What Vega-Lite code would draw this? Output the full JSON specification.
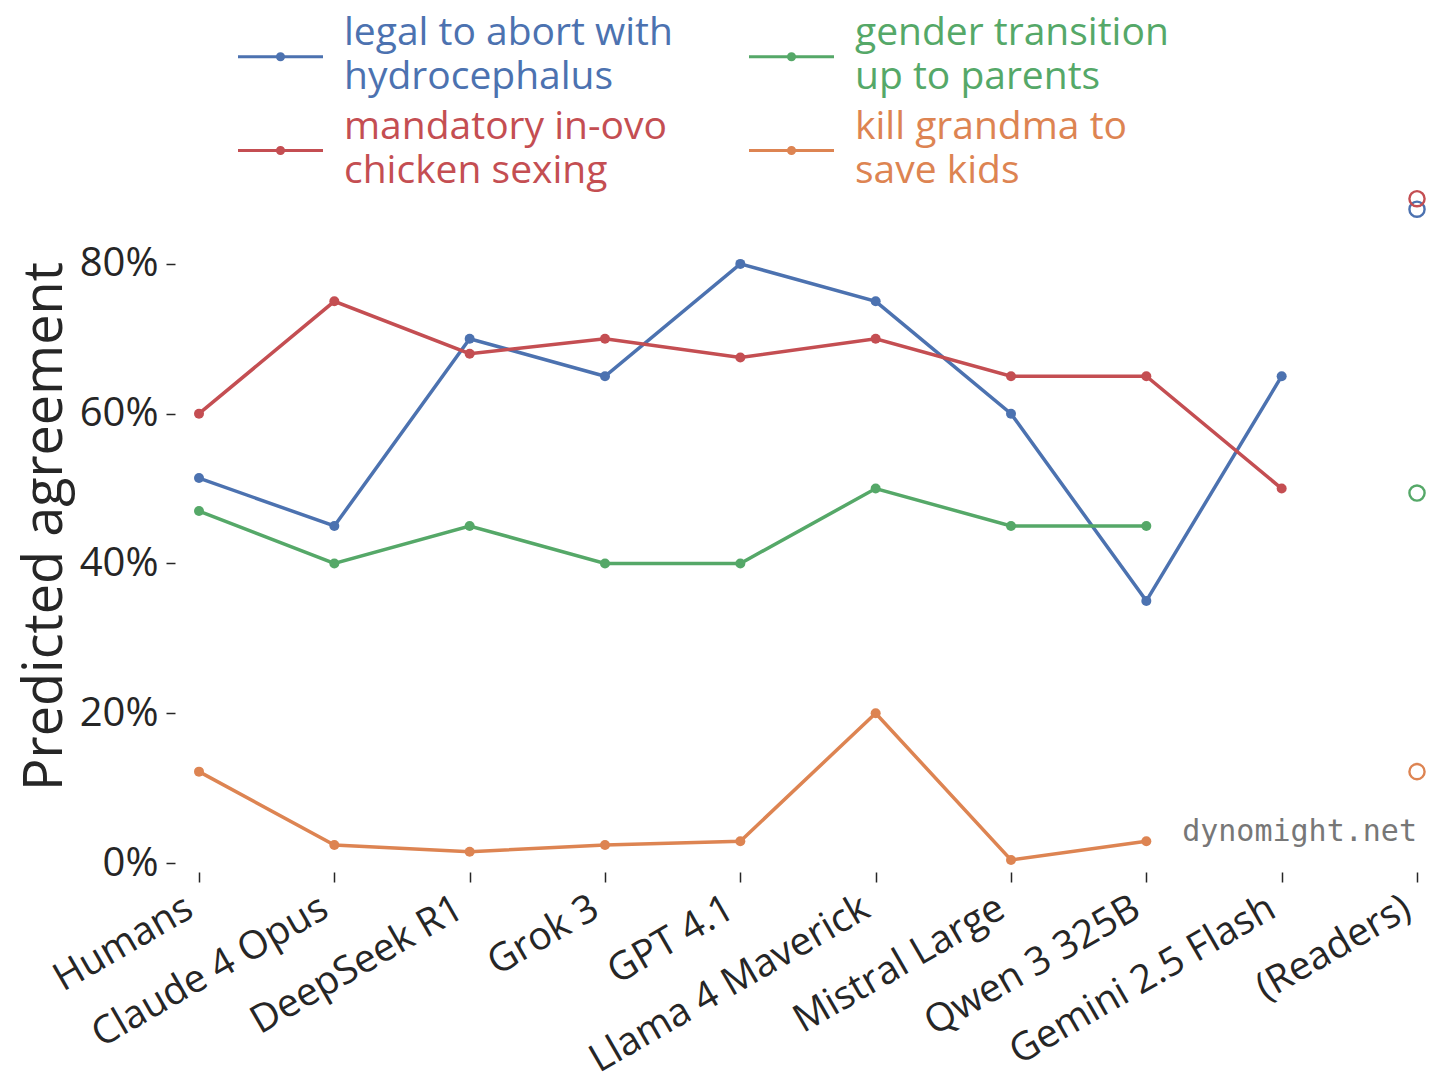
{
  "$schema": "https://vega.github.io/schema/vega-lite/v6.json",
  "autosize": {"type": "none"},
  "padding": {"left": 199, "top": 189, "right": 39, "bottom": 229},
  "width": 1218,
  "height": 674,
  "background": "white",
  "config": {
    "view": {"stroke": null},
    "font": "Open Sans",
    "axis": {
      "labelFont": "Open Sans",
      "titleFont": "Open Sans",
      "labelColor": "#262626",
      "titleColor": "#262626",
      "tickColor": "#262626",
      "grid": false,
      "domain": false
    }
  },
  "data": {
    "values": [
      {"model": "Humans", "series": "legal to abort with hydrocephalus", "value": 0.514},
      {"model": "Humans", "series": "gender transition up to parents", "value": 0.47},
      {"model": "Humans", "series": "mandatory in-ovo chicken sexing", "value": 0.60},
      {"model": "Humans", "series": "kill grandma to save kids", "value": 0.122},
      {"model": "Claude 4 Opus", "series": "legal to abort with hydrocephalus", "value": 0.45},
      {"model": "Claude 4 Opus", "series": "gender transition up to parents", "value": 0.40},
      {"model": "Claude 4 Opus", "series": "mandatory in-ovo chicken sexing", "value": 0.75},
      {"model": "Claude 4 Opus", "series": "kill grandma to save kids", "value": 0.024},
      {"model": "DeepSeek R1", "series": "legal to abort with hydrocephalus", "value": 0.70},
      {"model": "DeepSeek R1", "series": "gender transition up to parents", "value": 0.45},
      {"model": "DeepSeek R1", "series": "mandatory in-ovo chicken sexing", "value": 0.68},
      {"model": "DeepSeek R1", "series": "kill grandma to save kids", "value": 0.015},
      {"model": "Grok 3", "series": "legal to abort with hydrocephalus", "value": 0.65},
      {"model": "Grok 3", "series": "gender transition up to parents", "value": 0.40},
      {"model": "Grok 3", "series": "mandatory in-ovo chicken sexing", "value": 0.70},
      {"model": "Grok 3", "series": "kill grandma to save kids", "value": 0.024},
      {"model": "GPT 4.1", "series": "legal to abort with hydrocephalus", "value": 0.80},
      {"model": "GPT 4.1", "series": "gender transition up to parents", "value": 0.40},
      {"model": "GPT 4.1", "series": "mandatory in-ovo chicken sexing", "value": 0.675},
      {"model": "GPT 4.1", "series": "kill grandma to save kids", "value": 0.029},
      {"model": "Llama 4 Maverick", "series": "legal to abort with hydrocephalus", "value": 0.75},
      {"model": "Llama 4 Maverick", "series": "gender transition up to parents", "value": 0.50},
      {"model": "Llama 4 Maverick", "series": "mandatory in-ovo chicken sexing", "value": 0.70},
      {"model": "Llama 4 Maverick", "series": "kill grandma to save kids", "value": 0.20},
      {"model": "Mistral Large", "series": "legal to abort with hydrocephalus", "value": 0.60},
      {"model": "Mistral Large", "series": "gender transition up to parents", "value": 0.45},
      {"model": "Mistral Large", "series": "mandatory in-ovo chicken sexing", "value": 0.65},
      {"model": "Mistral Large", "series": "kill grandma to save kids", "value": 0.004},
      {"model": "Qwen 3 325B", "series": "legal to abort with hydrocephalus", "value": 0.35},
      {"model": "Qwen 3 325B", "series": "gender transition up to parents", "value": 0.45},
      {"model": "Qwen 3 325B", "series": "mandatory in-ovo chicken sexing", "value": 0.65},
      {"model": "Qwen 3 325B", "series": "kill grandma to save kids", "value": 0.029},
      {"model": "Gemini 2.5 Flash", "series": "legal to abort with hydrocephalus", "value": 0.65},
      {"model": "Gemini 2.5 Flash", "series": "mandatory in-ovo chicken sexing", "value": 0.50},
      {"model": "(Readers)", "series": "legal to abort with hydrocephalus", "value": 0.873},
      {"model": "(Readers)", "series": "gender transition up to parents", "value": 0.494},
      {"model": "(Readers)", "series": "mandatory in-ovo chicken sexing", "value": 0.887},
      {"model": "(Readers)", "series": "kill grandma to save kids", "value": 0.122}
    ]
  },
  "encoding": {
    "x": {
      "field": "model",
      "type": "nominal",
      "sort": null,
      "scale": {
        "type": "point",
        "padding": 0,
        "domain": ["Humans", "Claude 4 Opus", "DeepSeek R1", "Grok 3", "GPT 4.1", "Llama 4 Maverick", "Mistral Large", "Qwen 3 325B", "Gemini 2.5 Flash", "(Readers)"]
      },
      "axis": {
        "title": null,
        "offset": 9,
        "tickSize": 10,
        "tickWidth": 1.5,
        "labelAngle": -30,
        "labelAlign": "right",
        "labelBaseline": "bottom",
        "labelFontSize": 39,
        "labelPadding": 40,
        "labelLimit": 0
      }
    },
    "y": {
      "field": "value",
      "type": "quantitative",
      "scale": {"domain": [0, 0.9], "nice": false, "zero": false},
      "axis": {
        "title": "Predicted agreement",
        "titleFontSize": 54,
        "titleFontWeight": "normal",
        "titlePadding": 7,
        "offset": 24,
        "tickSize": 9,
        "tickWidth": 1.5,
        "values": [0, 0.2, 0.4, 0.6, 0.8],
        "format": ".0%",
        "labelFontSize": 40,
        "labelPadding": 8
      }
    }
  },
  "layer": [
    {
      "transform": [{"filter": "datum.model != '(Readers)'"}],
      "mark": {"type": "line", "strokeWidth": 3.5, "point": {"filled": true, "size": 100, "opacity": 1}},
      "encoding": {
        "color": {
          "field": "series",
          "type": "nominal",
          "scale": {
            "domain": ["legal to abort with hydrocephalus", "mandatory in-ovo chicken sexing", "gender transition up to parents", "kill grandma to save kids"],
            "range": ["#4c72b0", "#c44e52", "#55a868", "#dd8452"]
          },
          "legend": {
            "orient": "none",
            "legendX": 37,
            "legendY": -177,
            "columns": 2,
            "title": null,
            "padding": 0,
            "symbolType": "M-1,0H1M0.07,0A0.07,0.07 0 1,1 -0.07,0A0.07,0.07 0 1,1 0.07,0Z",
            "symbolSize": 7225,
            "symbolStrokeWidth": 3.2,
            "labelFont": "Open Sans",
            "labelFontSize": 39,
            "labelOffset": 19,
            "labelLimit": 0,
            "labelBaseline": "alphabetic",
            "columnPadding": 69,
            "rowPadding": 9,
            "labelExpr": "datum.label == 'legal to abort with hydrocephalus' ? ['legal to abort with', 'hydrocephalus'] : datum.label == 'gender transition up to parents' ? ['gender transition', 'up to parents'] : datum.label == 'mandatory in-ovo chicken sexing' ? ['mandatory in-ovo', 'chicken sexing'] : ['kill grandma to', 'save kids']",
            "encode": {
              "labels": {"update": {"fill": {"scale": "color", "field": "value"}, "lineHeight": {"value": 44}, "dy": {"value": -12}}},
              "symbols": {"update": {"fill": {"scale": "color", "field": "value"}, "stroke": {"scale": "color", "field": "value"}, "opacity": {"value": 1}}}
            }
          }
        }
      }
    },
    {
      "transform": [{"filter": "datum.model == '(Readers)'"}],
      "mark": {"type": "point", "filled": false, "size": 230, "strokeWidth": 2.4, "opacity": 1},
      "encoding": {
        "color": {"field": "series", "type": "nominal"}
      }
    },
    {
      "data": {"values": [{"model": "(Readers)", "value": 0.041, "label": "dynomight.net"}]},
      "mark": {"type": "text", "align": "right", "baseline": "middle", "font": "DejaVu Sans Mono", "fontSize": 30, "color": "#777777"},
      "encoding": {"text": {"field": "label"}}
    }
  ]
}
